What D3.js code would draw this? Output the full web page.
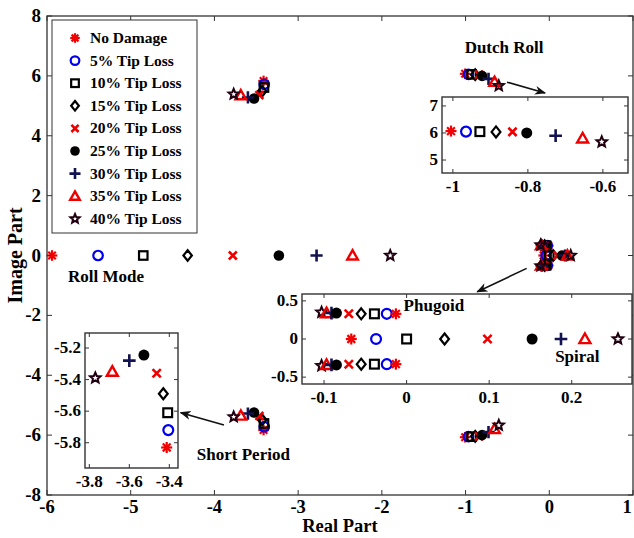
<!DOCTYPE html>
<html>
<head>
<meta charset="utf-8">
<script src="https://cdn.jsdelivr.net/npm/d3@7"></script>
<style>
  body { margin: 0; background: #fff; }
  text { font-family: "Liberation Serif", "Times New Roman", serif; font-weight: bold; fill: #000; }
</style>
</head>
<body>
<svg id="chart" width="634" height="538"></svg>
<script>
// damage levels and their marker style
const levels = ["No Damage", "5% Tip Loss", "10% Tip Loss", "15% Tip Loss", "20% Tip Loss",
  "25% Tip Loss", "30% Tip Loss", "35% Tip Loss", "40% Tip Loss"];
const markerTypes = ["asterisk", "circle", "square", "diamond", "cross", "dot", "plus", "triangle", "star"];
const markerColors = ["#f00000", "#0000ee", "#000000", "#000000", "#ee0000", "#000000", "#121250", "#ee0000", "#200010"];

// eigenvalues, one entry per damage level
const rollRe = [-5.94, -5.39, -4.85, -4.32, -3.78, -3.23, -2.78, -2.35, -1.90];
const dutchRe = [-1.005, -0.965, -0.928, -0.885, -0.841, -0.803, -0.726, -0.654, -0.603];
const dutchIm = [6.07, 6.05, 6.05, 6.04, 6.04, 6.0, 5.9, 5.8, 5.67];
const shortRe = [-3.413, -3.405, -3.408, -3.43, -3.463, -3.527, -3.60, -3.685, -3.77];
const shortIm = [5.83, 5.72, 5.61, 5.49, 5.36, 5.245, 5.28, 5.35, 5.39];
const phugRe = [-0.013, -0.024, -0.039, -0.055, -0.07, -0.085, -0.091, -0.097, -0.103];
const phugIm = [0.33, 0.33, 0.33, 0.33, 0.33, 0.34, 0.34, 0.34, 0.35];
const spiralRe = [-0.067, -0.037, 0.0, 0.046, 0.098, 0.152, 0.187, 0.216, 0.256];

// axis ticks
const xTicks = [-6, -5, -4, -3, -2, -1, 0, 1];
const yTicks = [-8, -6, -4, -2, 0, 2, 4, 6, 8];

const svg = d3.select("#chart");

const x = d3.scaleLinear().domain([-6, 1]).range([47, 633]);
const y = d3.scaleLinear().domain([-8, 8]).range([495, 16]);

// draw one marker at (px, py)
function drawMarker(g, i, px, py, s = 5) {
  const type = markerTypes[i], color = markerColors[i];
  const m = g.append("g").attr("transform", `translate(${px},${py})`)
    .attr("stroke", color).attr("fill", "none").attr("stroke-width", 2.2);
  if (type === "asterisk") {
    for (let a = 0; a < 4; a++) {
      const t = a * Math.PI / 4;
      m.append("line").attr("x1", -s * Math.cos(t)).attr("y1", -s * Math.sin(t))
        .attr("x2", s * Math.cos(t)).attr("y2", s * Math.sin(t));
    }
    m.append("circle").attr("r", s * 0.45).attr("fill", color).attr("stroke", "none");
  } else if (type === "circle") {
    m.append("circle").attr("r", s * 0.9);
  } else if (type === "square") {
    m.append("rect").attr("x", -s * 0.8).attr("y", -s * 0.8).attr("width", s * 1.6).attr("height", s * 1.6);
  } else if (type === "diamond") {
    m.append("path").attr("d", `M0,${-s}L${s * 0.8},0L0,${s}L${-s * 0.8},0Z`);
  } else if (type === "cross") {
    const k = s * 0.75;
    m.attr("stroke-width", 2.6);
    m.append("path").attr("d", `M${-k},${-k}L${k},${k}M${-k},${k}L${k},${-k}`);
  } else if (type === "dot") {
    m.append("circle").attr("r", s).attr("fill", color).attr("stroke", "none");
  } else if (type === "plus") {
    const k = s * 1.15;
    m.attr("stroke-width", 2.6);
    m.append("path").attr("d", `M${-k},0L${k},0M0,${-k}L0,${k}`);
  } else if (type === "triangle") {
    m.append("path").attr("d", `M0,${-s}L${s},${s * 0.75}L${-s},${s * 0.75}Z`).attr("stroke-width", 2.4);
  } else if (type === "star") {
    const pts = [];
    for (let k = 0; k < 10; k++) {
      const r = k % 2 === 0 ? s : s * 0.45;
      const t = -Math.PI / 2 + k * Math.PI / 5;
      pts.push([r * Math.cos(t), r * Math.sin(t)]);
    }
    m.append("path").attr("d", "M" + pts.join("L") + "Z").attr("stroke-width", 2);
  }
}

// all poles of one damage level (with conjugates)
function polesOf(i) {
  return [
    [rollRe[i], 0],
    [dutchRe[i], dutchIm[i]], [dutchRe[i], -dutchIm[i]],
    [shortRe[i], shortIm[i]], [shortRe[i], -shortIm[i]],
    [phugRe[i], phugIm[i]], [phugRe[i], -phugIm[i]],
    [spiralRe[i], 0]
  ];
}

// ---- main axes ----
const main = svg.append("g");
main.append("rect").attr("x", 47).attr("y", 16).attr("width", 586).attr("height", 479)
  .attr("fill", "#fff");

const pts = main.append("g");
levels.forEach((d, i) => {
  polesOf(i).forEach(p => drawMarker(pts, i, x(p[0]), y(p[1]), 5.3));
});

// ticks (inward, all four sides)
const tickG = main.append("g").attr("stroke", "#333").attr("stroke-width", 1);
xTicks.forEach(t => {
  tickG.append("line").attr("x1", x(t)).attr("x2", x(t)).attr("y1", 495).attr("y2", 490);
  tickG.append("line").attr("x1", x(t)).attr("x2", x(t)).attr("y1", 16).attr("y2", 21);
});
yTicks.forEach(t => {
  tickG.append("line").attr("x1", 47).attr("x2", 52).attr("y1", y(t)).attr("y2", y(t));
  tickG.append("line").attr("x1", 633).attr("x2", 628).attr("y1", y(t)).attr("y2", y(t));
});
main.append("rect").attr("x", 47).attr("y", 16).attr("width", 586).attr("height", 479)
  .attr("fill", "none").attr("stroke", "#333").attr("stroke-width", 1.3);

main.selectAll(".xl").data(xTicks).join("text")
  .attr("x", d => Math.min(x(d), 627)).attr("y", 513).attr("text-anchor", "middle")
  .style("font-size", "18.5px").text(d => d);
main.selectAll(".yl").data(yTicks).join("text")
  .attr("x", 41).attr("y", d => y(d) + 6).attr("text-anchor", "end")
  .style("font-size", "19px").text(d => d);

svg.append("text").attr("x", 340).attr("y", 532).attr("text-anchor", "middle")
  .style("font-size", "18.5px").text("Real Part");
svg.append("text").attr("transform", `translate(22,${y(0)}) rotate(-90)`)
  .attr("text-anchor", "middle").style("font-size", "20px").text("Image Part");

// ---- legend ----
const legend = svg.append("g");
legend.append("rect").attr("x", 52).attr("y", 20).attr("width", 145).attr("height", 213)
  .attr("fill", "#fff").attr("stroke", "#333").attr("stroke-width", 1);
levels.forEach((d, i) => {
  const ly = 38 + i * 22.6;
  drawMarker(legend, i, 75, ly, 4.8);
  legend.append("text").attr("x", 90).attr("y", ly + 5).style("font-size", "15.5px").text(d);
});

// ---- insets ----
function inset(o) {
  const g = svg.append("g");
  const ix = d3.scaleLinear().domain(o.xDomain).range([o.x0, o.x1]);
  const iy = d3.scaleLinear().domain(o.yDomain).range([o.y1, o.y0]);
  g.append("rect").attr("x", o.x0).attr("y", o.y0).attr("width", o.x1 - o.x0).attr("height", o.y1 - o.y0)
    .attr("fill", "#fff");
  o.points.forEach(p => drawMarker(g, p[0], ix(p[1]), iy(p[2]), 5.5));
  const tg = g.append("g").attr("stroke", "#333");
  o.xTicks.forEach(t => {
    tg.append("line").attr("x1", ix(t)).attr("x2", ix(t)).attr("y1", o.y1).attr("y2", o.y1 - 4);
    tg.append("line").attr("x1", ix(t)).attr("x2", ix(t)).attr("y1", o.y0).attr("y2", o.y0 + 4);
  });
  o.yTicks.forEach(t => {
    tg.append("line").attr("x1", o.x0).attr("x2", o.x0 + 4).attr("y1", iy(t)).attr("y2", iy(t));
    tg.append("line").attr("x1", o.x1).attr("x2", o.x1 - 4).attr("y1", iy(t)).attr("y2", iy(t));
  });
  g.append("rect").attr("x", o.x0).attr("y", o.y0).attr("width", o.x1 - o.x0).attr("height", o.y1 - o.y0)
    .attr("fill", "none").attr("stroke", "#333").attr("stroke-width", 1.4);
  o.xTicks.forEach(t => g.append("text").attr("x", ix(t)).attr("y", o.y1 + 19)
    .attr("text-anchor", "middle").style("font-size", "17px").text(t));
  o.yTicks.forEach(t => g.append("text").attr("x", o.x0 - 4).attr("y", iy(t) + 5)
    .attr("text-anchor", "end").style("font-size", "17px").text(t));
}

inset({
  x0: 442, x1: 628, y0: 97, y1: 173,
  xDomain: [-1.029, -0.533], yDomain: [4.52, 7.33],
  xTicks: [-1, -0.8, -0.6], yTicks: [5, 6, 7],
  points: levels.map((d, i) => [i, dutchRe[i], dutchIm[i]])
});

inset({
  x0: 302, x1: 632, y0: 294, y1: 384,
  xDomain: [-0.1267, 0.273], yDomain: [-0.59, 0.59],
  xTicks: [-0.1, 0, 0.1, 0.2], yTicks: [-0.5, 0, 0.5],
  points: levels.flatMap((d, i) => [[i, phugRe[i], phugIm[i]], [i, phugRe[i], -phugIm[i]], [i, spiralRe[i], 0]])
    .reverse()
});

inset({
  x0: 85, x1: 178, y0: 333, y1: 468,
  xDomain: [-3.8215, -3.3565], yDomain: [-5.96, -5.105],
  xTicks: [-3.8, -3.6, -3.4], yTicks: [-5.2, -5.4, -5.6, -5.8],
  points: levels.map((d, i) => [i, shortRe[i], -shortIm[i]])
});

// ---- annotations (data coordinates of the main axes) ----
const notes = [
  { text: "Dutch Roll", re: -0.54, im: 6.75, anchor: "middle" },
  { text: "Roll Mode", re: -5.75, im: -0.87, anchor: "start" },
  { text: "Short Period", re: -4.21, im: -6.83, anchor: "start" },
  { text: "Phugoid", re: -1.74, im: -1.85, anchor: "start" },
  { text: "Spiral", re: 0.07, im: -3.56, anchor: "start" }
];
notes.forEach(n => svg.append("text").attr("x", x(n.re)).attr("y", y(n.im))
  .attr("text-anchor", n.anchor).style("font-size", "17px").text(n.text));

const arrows = [
  [[-0.505, 5.79], [-0.051, 5.43]],
  [[-0.27, -0.43], [-0.86, -1.21]],
  [[-3.886, -5.66], [-4.403, -5.25]]
];
svg.append("defs").append("marker").attr("id", "head").attr("viewBox", "0 0 10 10")
  .attr("refX", 9).attr("refY", 5).attr("markerWidth", 7).attr("markerHeight", 7)
  .attr("orient", "auto").append("path").attr("d", "M0,1L10,5L0,9L3,5Z").attr("fill", "#111");
arrows.forEach(a => svg.append("line")
  .attr("x1", x(a[0][0])).attr("y1", y(a[0][1])).attr("x2", x(a[1][0])).attr("y2", y(a[1][1]))
  .attr("stroke", "#111").attr("stroke-width", 1.6).attr("marker-end", "url(#head)"));
</script>
</body>
</html>
